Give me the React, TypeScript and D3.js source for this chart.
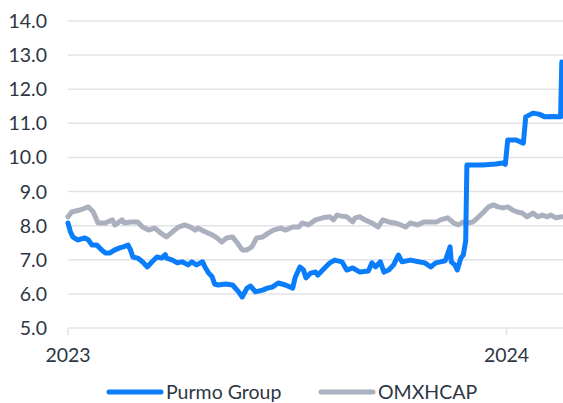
import React from "react";
import * as d3 from "d3";

// Purmo Group share price (EUR)
const purmoDates = [
  "2023-01-01", "2023-01-03", "2023-01-05", "2023-01-09", "2023-01-15", "2023-01-18", "2023-01-21", "2023-01-25",
  "2023-01-29", "2023-02-01", "2023-02-05", "2023-02-09", "2023-02-13", "2023-02-16", "2023-02-20", "2023-02-22",
  "2023-02-24", "2023-02-28", "2023-03-04", "2023-03-08", "2023-03-12", "2023-03-16", "2023-03-20", "2023-03-23",
  "2023-03-24", "2023-03-29", "2023-04-02", "2023-04-06", "2023-04-11", "2023-04-14", "2023-04-18", "2023-04-23",
  "2023-04-25", "2023-04-28", "2023-05-01", "2023-05-03", "2023-05-06", "2023-05-12", "2023-05-18", "2023-05-23",
  "2023-05-26", "2023-05-30", "2023-06-02", "2023-06-06", "2023-06-12", "2023-06-16", "2023-06-20", "2023-06-25",
  "2023-07-01", "2023-07-07", "2023-07-09", "2023-07-13", "2023-07-16", "2023-07-18", "2023-07-22", "2023-07-26",
  "2023-07-28", "2023-08-01", "2023-08-07", "2023-08-11", "2023-08-17", "2023-08-21", "2023-08-26", "2023-09-01",
  "2023-09-08", "2023-09-11", "2023-09-14", "2023-09-18", "2023-09-21", "2023-09-25", "2023-09-29", "2023-10-03",
  "2023-10-06", "2023-10-13", "2023-10-20", "2023-10-25", "2023-10-30", "2023-11-03", "2023-11-07", "2023-11-11",
  "2023-11-15", "2023-11-16", "2023-11-19", "2023-11-21", "2023-11-24", "2023-11-26", "2023-11-28", "2023-11-29",
  "2023-12-12", "2023-12-23", "2023-12-29", "2023-12-31", "2024-01-02", "2024-01-09", "2024-01-13", "2024-01-15",
  "2024-01-17", "2024-01-23", "2024-01-28", "2024-02-02", "2024-02-08", "2024-02-13", "2024-02-15", "2024-02-16",
];
const purmoValues = [
  8.08, 7.82, 7.67, 7.58, 7.64, 7.58, 7.43, 7.43,
  7.29, 7.2, 7.2, 7.29, 7.35, 7.38, 7.43, 7.29,
  7.08, 7.05, 6.94, 6.79, 6.94, 7.08, 7.05, 7.15,
  7.05, 6.99, 6.91, 6.94, 6.85, 6.94, 6.85, 6.94,
  6.79, 6.61, 6.5, 6.29, 6.26, 6.29, 6.26, 6.06,
  5.91, 6.17, 6.23, 6.06, 6.11, 6.17, 6.2, 6.32,
  6.26, 6.17, 6.47, 6.79, 6.7, 6.47, 6.61, 6.64,
  6.55, 6.7, 6.91, 6.99, 6.94, 6.7, 6.76, 6.64,
  6.67, 6.91, 6.79, 6.94, 6.64, 6.7, 6.85, 7.14,
  6.94, 6.99, 6.94, 6.91, 6.79, 6.91, 6.94, 6.97,
  7.38, 6.94, 6.85, 6.7, 7.05, 7.14, 7.55, 9.78,
  9.78, 9.81, 9.84, 9.8, 10.51, 10.51, 10.45, 10.42,
  11.19, 11.3, 11.27, 11.19, 11.2, 11.19, 11.19, 12.8,
];

// OMXHCAP index, rebased
const indexDates = [
  "2023-01-01", "2023-01-04", "2023-01-11", "2023-01-18", "2023-01-22", "2023-01-26", "2023-02-01", "2023-02-07",
  "2023-02-09", "2023-02-15", "2023-02-17", "2023-02-22", "2023-02-28", "2023-03-04", "2023-03-09", "2023-03-14",
  "2023-03-19", "2023-03-24", "2023-03-29", "2023-04-03", "2023-04-08", "2023-04-13", "2023-04-17", "2023-04-19",
  "2023-04-25", "2023-05-01", "2023-05-05", "2023-05-09", "2023-05-13", "2023-05-18", "2023-05-22", "2023-05-26",
  "2023-05-30", "2023-06-03", "2023-06-07", "2023-06-12", "2023-06-17", "2023-06-21", "2023-06-27", "2023-07-01",
  "2023-07-07", "2023-07-12", "2023-07-15", "2023-07-20", "2023-07-26", "2023-08-01", "2023-08-07", "2023-08-10",
  "2023-08-13", "2023-08-17", "2023-08-21", "2023-08-26", "2023-08-28", "2023-09-01", "2023-09-05", "2023-09-11",
  "2023-09-16", "2023-09-20", "2023-09-25", "2023-09-30", "2023-10-05", "2023-10-09", "2023-10-13", "2023-10-19",
  "2023-10-24", "2023-10-30", "2023-11-04", "2023-11-07", "2023-11-13", "2023-11-18", "2023-11-22", "2023-11-26",
  "2023-11-29", "2023-12-04", "2023-12-08", "2023-12-13", "2023-12-17", "2023-12-21", "2023-12-25", "2023-12-29",
  "2024-01-02", "2024-01-06", "2024-01-10", "2024-01-14", "2024-01-18", "2024-01-23", "2024-01-27", "2024-01-31",
  "2024-02-04", "2024-02-07", "2024-02-11", "2024-02-16",
];
const indexValues = [
  8.26, 8.4, 8.46, 8.55, 8.4, 8.08, 8.08, 8.17,
  8.02, 8.17, 8.08, 8.11, 8.11, 7.96, 7.87, 7.93,
  7.79, 7.67, 7.82, 7.96, 8.02, 7.96, 7.87, 7.93,
  7.82, 7.73, 7.64, 7.52, 7.64, 7.67, 7.49, 7.29,
  7.29, 7.38, 7.64, 7.67, 7.79, 7.87, 7.93, 7.87,
  7.96, 7.96, 8.08, 8.02, 8.17, 8.23, 8.26, 8.17,
  8.31, 8.28, 8.26, 8.11, 8.23, 8.26, 8.17, 8.08,
  7.96, 8.17, 8.11, 8.08, 8.02, 7.96, 8.08, 8.02,
  8.11, 8.11, 8.11, 8.17, 8.23, 8.08, 8.02, 8.11,
  8.08, 8.11, 8.23, 8.4, 8.55, 8.61, 8.55, 8.52,
  8.55, 8.46, 8.4, 8.37, 8.26, 8.37, 8.26, 8.31,
  8.26, 8.31, 8.23, 8.26,
];

const yTicks = [5, 6, 7, 8, 9, 10, 11, 12, 13, 14];
const xTicks = ["2023-01-01", "2024-01-01"];
const seriesNames = ["Purmo Group", "OMXHCAP"];
const seriesColors = ["#0a7dfb", "#abb0be"];

const W = 563;
const H = 403;
const FONT = "Lato, 'Open Sans', sans-serif";
const TEXT = "#2d3642";
const FS = 19.5;

const parse = d3.timeParse("%Y-%m-%d");

export default function App() {
  const x = d3
    .scaleTime()
    .domain([parse("2023-01-01")!, parse("2024-02-17")!])
    .range([68, 563]);
  const y = d3.scaleLinear().domain([5, 14]).range([328, 21]);

  const line = d3
    .line<[Date, number]>()
    .x((d) => x(d[0]))
    .y((d) => y(d[1]));

  const purmo: [Date, number][] = purmoDates.map((d, i) => [parse(d)!, purmoValues[i]]);
  const omx: [Date, number][] = indexDates.map((d, i) => [parse(d)!, indexValues[i]]);

  return (
    <svg
      width={W}
      height={H}
      style={{ position: "absolute", left: 0, top: 0, background: "#fff" }}
      fontFamily={FONT}
    >
      {yTicks.map((t) => (
        <g key={t}>
          <line x1={68} x2={563} y1={y(t)} y2={y(t)} stroke="#e1e3e9" strokeWidth={1.5} />
          <text x={47} y={y(t)} dy="0.36em" textAnchor="end" fontSize={FS} fill={TEXT}>
            {t.toFixed(1)}
          </text>
        </g>
      ))}
      {xTicks.map((t) => (
        <g key={t}>
          <line x1={x(parse(t)!)} x2={x(parse(t)!)} y1={328} y2={335} stroke="#e1e3e9" strokeWidth={1.5} />
          <text x={x(parse(t)!)} y={355} dy="0.36em" textAnchor="middle" fontSize={FS} fill={TEXT}>
            {d3.timeFormat("%Y")(parse(t)!)}
          </text>
        </g>
      ))}
      <path d={line(omx) ?? ""} fill="none" stroke={seriesColors[1]} strokeWidth={5} strokeLinejoin="round" strokeLinecap="round" />
      <path d={line(purmo) ?? ""} fill="none" stroke={seriesColors[0]} strokeWidth={5} strokeLinejoin="round" strokeLinecap="round" />
      {seriesNames.map((name, i) => (
        <g key={name} transform={`translate(${[109, 321][i]},392)`}>
          <line x1={0} x2={52} y1={0} y2={0} stroke={seriesColors[i]} strokeWidth={5} strokeLinecap="round" />
          <text x={57} y={0} dy="0.36em" fontSize={FS} fill={TEXT}>
            {name}
          </text>
        </g>
      ))}
    </svg>
  );
}
